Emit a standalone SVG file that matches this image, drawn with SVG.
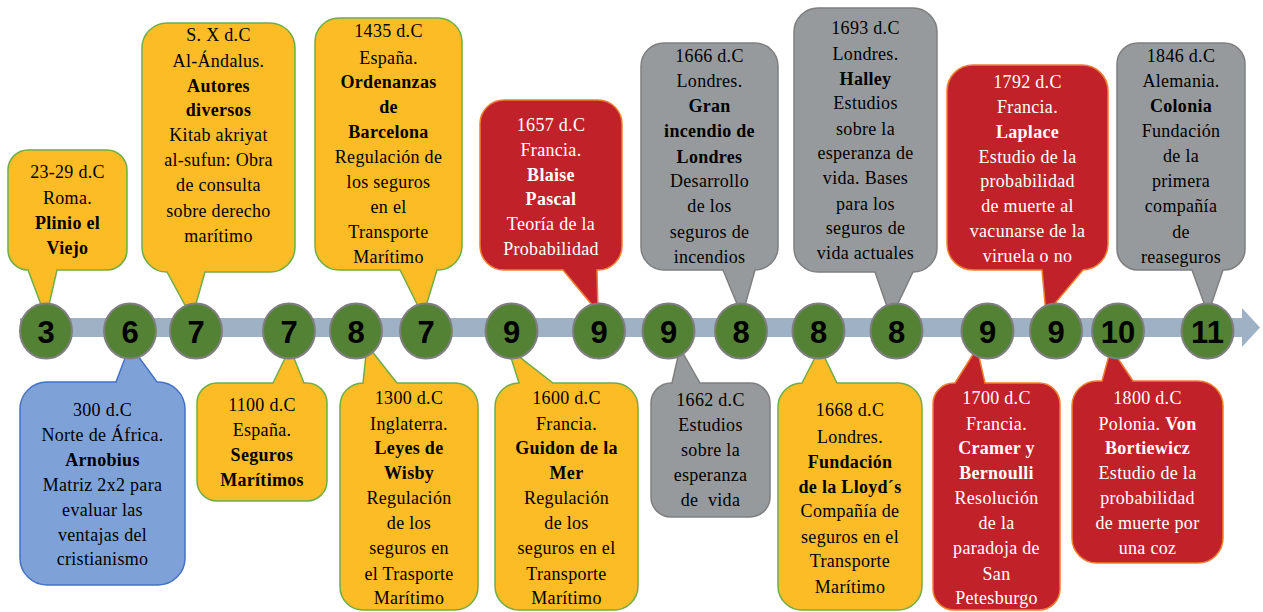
<svg xmlns="http://www.w3.org/2000/svg" width="1263" height="612" viewBox="0 0 1263 612">
<style>
.t{font-family:"Liberation Serif",serif;font-size:18px;letter-spacing:0.3px;text-anchor:middle;fill:#000}
.w{fill:#fff}
.b{font-weight:bold}
.y{fill:#FBBC26;stroke:#70AD47;stroke-width:1.5}
.r{fill:#C1222A;stroke:#ED7D31;stroke-width:1.5}
.g{fill:#979A9C;stroke:#7F7F7F;stroke-width:1.5}
.bl{fill:#7EA2D7;stroke:#4472C4;stroke-width:1.5}
.c{fill:#548235;stroke:#7F7F7F;stroke-width:2}
.n{font-family:"Liberation Sans",Arial,sans-serif;font-weight:bold;font-size:31px;text-anchor:middle;fill:#000}
</style>
<rect width="1263" height="612" fill="#fff"/>
<g id="connectors">
<rect x="20" y="318" width="1223" height="19" fill="#9FB1C4"/>
<polygon points="1242,308 1260,327.5 1242,347" fill="#9FB1C4"/>
</g>
<!-- top callouts -->
<g id="c-2329">
<path class="y" d="M28,150 H107 A20,20 0 0 1 127,170 V250 A20,20 0 0 1 107,270 H57 L46,318 L28,270 A20,20 0 0 1 8,250 V170 A20,20 0 0 1 28,150 Z"/>
<text class="t"><tspan x="67.5" y="178">23-29 d.C</tspan><tspan x="67.5" y="204">Roma.</tspan><tspan x="67.5" y="229" class="b">Plinio el</tspan><tspan x="67.5" y="254" class="b">Viejo</tspan></text>
</g>
<g id="c-sx">
<path class="y" d="M167,23 H270 A25,25 0 0 1 295,48 V247 A25,25 0 0 1 270,272 H205 L192,318 L167,272 A25,25 0 0 1 142,247 V48 A25,25 0 0 1 167,23 Z"/>
<text class="t"><tspan x="218.5" y="41">S. X d.C</tspan><tspan x="218.5" y="67">Al-Ándalus.</tspan><tspan x="218.5" y="92" class="b">Autores</tspan><tspan x="218.5" y="116" class="b">diversos</tspan><tspan x="218.5" y="141">Kitab akriyat</tspan><tspan x="218.5" y="166">al-sufun: Obra</tspan><tspan x="218.5" y="191">de consulta</tspan><tspan x="218.5" y="217">sobre derecho</tspan><tspan x="218.5" y="242">marítimo</tspan></text>
</g>
<g id="c-1435">
<path class="y" d="M339,18 H438 A24,24 0 0 1 462,42 V246 A24,24 0 0 1 438,270 H437 L423,316 L400,270 H339 A24,24 0 0 1 315,246 V42 A24,24 0 0 1 339,18 Z"/>
<text class="t"><tspan x="388.5" y="37">1435 d.C</tspan><tspan x="388.5" y="64">España.</tspan><tspan x="388.5" y="88" class="b">Ordenanzas</tspan><tspan x="388.5" y="113" class="b">de</tspan><tspan x="388.5" y="138" class="b">Barcelona</tspan><tspan x="388.5" y="163">Regulación de</tspan><tspan x="388.5" y="188">los seguros</tspan><tspan x="388.5" y="213">en el</tspan><tspan x="388.5" y="238">Transporte</tspan><tspan x="388.5" y="263">Marítimo</tspan></text>
</g>
<g id="c-1657">
<path class="r" d="M504,100 H598 A24,24 0 0 1 622,124 V246 A24,24 0 0 1 598,270 H597 L598,312 L563,270 H504 A24,24 0 0 1 480,246 V124 A24,24 0 0 1 504,100 Z"/>
<text class="t w"><tspan x="551" y="131">1657 d.C</tspan><tspan x="551" y="156">Francia.</tspan><tspan x="551" y="181" class="b">Blaise</tspan><tspan x="551" y="205" class="b">Pascal</tspan><tspan x="551" y="230">Teoría de la</tspan><tspan x="551" y="255">Probabilidad</tspan></text>
</g>
<g id="c-1666">
<path class="g" d="M664,43 H755 A23,23 0 0 1 778,66 V247 A23,23 0 0 1 755,270 L742,316 L723,270 H664 A23,23 0 0 1 641,247 V66 A23,23 0 0 1 664,43 Z"/>
<text class="t"><tspan x="709.5" y="62">1666 d.C</tspan><tspan x="709.5" y="87">Londres.</tspan><tspan x="709.5" y="112" class="b">Gran</tspan><tspan x="709.5" y="137" class="b">incendio de</tspan><tspan x="709.5" y="163" class="b">Londres</tspan><tspan x="709.5" y="187">Desarrollo</tspan><tspan x="709.5" y="212">de los</tspan><tspan x="709.5" y="238">seguros de</tspan><tspan x="709.5" y="263">incendios</tspan></text>
</g>
<g id="c-1693">
<path class="g" d="M818,8 H913 A24,24 0 0 1 937,32 V248 A24,24 0 0 1 913,272 L891,318 L875,272 H818 A24,24 0 0 1 794,248 V32 A24,24 0 0 1 818,8 Z"/>
<text class="t"><tspan x="865.5" y="34">1693 d.C</tspan><tspan x="865.5" y="60">Londres.</tspan><tspan x="865.5" y="85" class="b">Halley</tspan><tspan x="865.5" y="109">Estudios</tspan><tspan x="865.5" y="135">sobre la</tspan><tspan x="865.5" y="159">esperanza de</tspan><tspan x="865.5" y="184">vida. Bases</tspan><tspan x="865.5" y="210">para los</tspan><tspan x="865.5" y="234">seguros de</tspan><tspan x="865.5" y="259">vida actuales</tspan></text>
</g>
<g id="c-1792">
<path class="r" d="M973,65 H1082 A26,26 0 0 1 1108,91 V244 A26,26 0 0 1 1083,270 L1046,314 L1042,270 H973 A26,26 0 0 1 947,244 V91 A26,26 0 0 1 973,65 Z"/>
<text class="t w"><tspan x="1027.5" y="88">1792 d.C</tspan><tspan x="1027.5" y="113">Francia.</tspan><tspan x="1027.5" y="138" class="b">Laplace</tspan><tspan x="1027.5" y="163">Estudio de la</tspan><tspan x="1027.5" y="187">probabilidad</tspan><tspan x="1027.5" y="212">de muerte al</tspan><tspan x="1027.5" y="237">vacunarse de la</tspan><tspan x="1027.5" y="262">viruela o no</tspan></text>
</g>
<g id="c-1846">
<path class="g" d="M1138,43 H1224 A21,21 0 0 1 1245,64 V249 A21,21 0 0 1 1224,270 H1223 L1208,314 L1192,270 H1138 A21,21 0 0 1 1117,249 V64 A21,21 0 0 1 1138,43 Z"/>
<text class="t"><tspan x="1181" y="62">1846 d.C</tspan><tspan x="1181" y="87">Alemania.</tspan><tspan x="1181" y="112" class="b">Colonia</tspan><tspan x="1181" y="137">Fundación</tspan><tspan x="1181" y="162">de la</tspan><tspan x="1181" y="187">primera</tspan><tspan x="1181" y="212">compañía</tspan><tspan x="1181" y="238">de</tspan><tspan x="1181" y="263">reaseguros</tspan></text>
</g>
<!-- bottom callouts -->
<g id="c-300">
<path class="bl" d="M47,382 H116 L130,345 L157,382 H158 A27,27 0 0 1 185,409 V558 A27,27 0 0 1 158,585 H47 A27,27 0 0 1 20,558 V409 A27,27 0 0 1 47,382 Z"/>
<text class="t"><tspan x="102.5" y="416">300 d.C</tspan><tspan x="102.5" y="441">Norte de África.</tspan><tspan x="102.5" y="466" class="b">Arnobius</tspan><tspan x="102.5" y="491">Matriz 2x2 para</tspan><tspan x="102.5" y="516">evaluar las</tspan><tspan x="102.5" y="541">ventajas del</tspan><tspan x="102.5" y="565">cristianismo</tspan></text>
</g>
<g id="c-1100">
<path class="y" d="M217,383 H273 L290,348 L304,383 H307 A20,20 0 0 1 327,403 V481 A20,20 0 0 1 307,501 H217 A20,20 0 0 1 197,481 V403 A20,20 0 0 1 217,383 Z"/>
<text class="t"><tspan x="262" y="411">1100 d.C</tspan><tspan x="262" y="436">España.</tspan><tspan x="262" y="461" class="b">Seguros</tspan><tspan x="262" y="486" class="b">Marítimos</tspan></text>
</g>
<g id="c-1300">
<path class="y" d="M363,383 L367,345 L397,383 H455 A23,23 0 0 1 478,406 V587 A23,23 0 0 1 455,610 H363 A23,23 0 0 1 340,587 V406 A23,23 0 0 1 363,383 Z"/>
<text class="t"><tspan x="409" y="404">1300 d.C</tspan><tspan x="409" y="430">Inglaterra.</tspan><tspan x="409" y="454" class="b">Leyes de</tspan><tspan x="409" y="479" class="b">Wisby</tspan><tspan x="409" y="504">Regulación</tspan><tspan x="409" y="529">de los</tspan><tspan x="409" y="554">seguros en</tspan><tspan x="409" y="580">el Trasporte</tspan><tspan x="409" y="604">Marítimo</tspan></text>
</g>
<g id="c-1600">
<path class="y" d="M519,383 L508,348 L553,383 H614 A24,24 0 0 1 638,407 V586 A24,24 0 0 1 614,610 H519 A24,24 0 0 1 495,586 V407 A24,24 0 0 1 519,383 Z"/>
<text class="t"><tspan x="566.5" y="404">1600 d.C</tspan><tspan x="566.5" y="430">Francia.</tspan><tspan x="566.5" y="454" class="b">Guidon de la</tspan><tspan x="566.5" y="479" class="b">Mer</tspan><tspan x="566.5" y="504">Regulación</tspan><tspan x="566.5" y="529">de los</tspan><tspan x="566.5" y="554">seguros en el</tspan><tspan x="566.5" y="580">Transporte</tspan><tspan x="566.5" y="604">Marítimo</tspan></text>
</g>
<g id="c-1662">
<path class="g" d="M671,383 H672 L680,348 L700,383 H750 A20,20 0 0 1 770,403 V497 A20,20 0 0 1 750,517 H671 A20,20 0 0 1 651,497 V403 A20,20 0 0 1 671,383 Z"/>
<text class="t"><tspan x="710.5" y="406">1662 d.C</tspan><tspan x="710.5" y="431">Estudios</tspan><tspan x="710.5" y="456">sobre la</tspan><tspan x="710.5" y="481">esperanza</tspan><tspan x="710.5" y="506" xml:space="preserve">de  vida</tspan></text>
</g>
<g id="c-1668">
<path class="y" d="M802,383 L820,348 L837,383 H898 A24,24 0 0 1 922,407 V586 A24,24 0 0 1 898,610 H802 A24,24 0 0 1 778,586 V407 A24,24 0 0 1 802,383 Z"/>
<text class="t"><tspan x="850" y="416">1668 d.C</tspan><tspan x="850" y="443">Londres.</tspan><tspan x="850" y="468" class="b">Fundación</tspan><tspan x="850" y="493" class="b">de la Lloyd´s</tspan><tspan x="850" y="517">Compañía de</tspan><tspan x="850" y="543">seguros en el</tspan><tspan x="850" y="567">Transporte</tspan><tspan x="850" y="593">Marítimo</tspan></text>
</g>
<g id="c-1700">
<path class="r" d="M954,383 H955 L977,348 L985,383 H1039 A21,21 0 0 1 1060,404 V589 A21,21 0 0 1 1039,610 H954 A21,21 0 0 1 933,589 V404 A21,21 0 0 1 954,383 Z"/>
<text class="t w"><tspan x="996.5" y="404">1700 d.C</tspan><tspan x="996.5" y="430">Francia.</tspan><tspan x="996.5" y="454" class="b">Cramer y</tspan><tspan x="996.5" y="479" class="b">Bernoulli</tspan><tspan x="996.5" y="504">Resolución</tspan><tspan x="996.5" y="529">de la</tspan><tspan x="996.5" y="554">paradoja de</tspan><tspan x="996.5" y="580">San</tspan><tspan x="996.5" y="604">Petesburgo</tspan></text>
</g>
<g id="c-1800">
<path class="r" d="M1097,381 H1102 L1111,348 L1133,381 H1198 A25,25 0 0 1 1223,406 V538 A25,25 0 0 1 1198,563 H1097 A25,25 0 0 1 1072,538 V406 A25,25 0 0 1 1097,381 Z"/>
<text class="t w"><tspan x="1147.5" y="404">1800 d.C</tspan><tspan x="1147.5" y="430">Polonia. <tspan class="b">Von</tspan></tspan><tspan x="1147.5" y="454" class="b">Bortiewicz</tspan><tspan x="1147.5" y="479">Estudio de la</tspan><tspan x="1147.5" y="504">probabilidad</tspan><tspan x="1147.5" y="529">de muerte por</tspan><tspan x="1147.5" y="554">una coz</tspan></text>
</g>
<!-- timeline nodes -->
<g id="n1"><ellipse class="c" cx="46" cy="331" rx="26" ry="27.5"/><text class="n" x="46" y="343">3</text></g>
<g id="n2"><ellipse class="c" cx="130" cy="331" rx="26" ry="27.5"/><text class="n" x="130" y="343">6</text></g>
<g id="n3"><ellipse class="c" cx="196" cy="331" rx="26" ry="27.5"/><text class="n" x="196" y="343">7</text></g>
<g id="n4"><ellipse class="c" cx="289" cy="331" rx="26" ry="27.5"/><text class="n" x="289" y="343">7</text></g>
<g id="n5"><ellipse class="c" cx="356" cy="331" rx="26" ry="27.5"/><text class="n" x="356" y="343">8</text></g>
<g id="n6"><ellipse class="c" cx="426" cy="331" rx="26" ry="27.5"/><text class="n" x="426" y="343">7</text></g>
<g id="n7"><ellipse class="c" cx="511.5" cy="331" rx="26" ry="27.5"/><text class="n" x="511.5" y="343">9</text></g>
<g id="n8"><ellipse class="c" cx="599" cy="331" rx="26" ry="27.5"/><text class="n" x="599" y="343">9</text></g>
<g id="n9"><ellipse class="c" cx="668.5" cy="331" rx="26" ry="27.5"/><text class="n" x="668.5" y="343">9</text></g>
<g id="n10"><ellipse class="c" cx="741" cy="331" rx="26" ry="27.5"/><text class="n" x="741" y="343">8</text></g>
<g id="n11"><ellipse class="c" cx="818.5" cy="331" rx="26" ry="27.5"/><text class="n" x="818.5" y="343">8</text></g>
<g id="n12"><ellipse class="c" cx="896.5" cy="331" rx="26" ry="27.5"/><text class="n" x="896.5" y="343">8</text></g>
<g id="n13"><ellipse class="c" cx="987.5" cy="331" rx="26" ry="27.5"/><text class="n" x="987.5" y="343">9</text></g>
<g id="n14"><ellipse class="c" cx="1056" cy="331" rx="26" ry="27.5"/><text class="n" x="1056" y="343">9</text></g>
<g id="n15"><ellipse class="c" cx="1118" cy="331" rx="26" ry="27.5"/><text class="n" x="1118" y="343">10</text></g>
<g id="n16"><ellipse class="c" cx="1207.5" cy="331" rx="26" ry="27.5"/><text class="n" x="1207.5" y="343">11</text></g>
</svg>
